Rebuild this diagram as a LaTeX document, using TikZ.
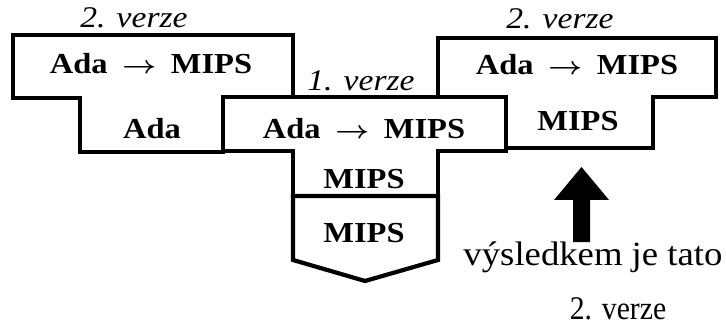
\documentclass[tikz,border=0pt]{standalone}
\usepackage{fontspec}
\setmainfont{Liberation Serif}
\newfontfamily\bxf[FakeStretch=1.12]{Liberation Serif Bold}
\newfontfamily\itf[FakeStretch=1.12]{Liberation Serif Italic}
\newfontfamily\rmf[FakeStretch=0.9]{Liberation Serif}
\newfontfamily\rmw[FakeStretch=1.08]{Liberation Serif}
\newcommand\tarrow{\hspace{0.5em}\scalebox{1.2}[1]{\boldmath$\rightarrow$}\hspace{0.5em}}
\tikzset{
  tbox/.style={draw=black, line width=4.2pt, line join=miter, fill=white},
  lbl/.style={font=\bxf\fontsize{29}{29}\selectfont, anchor=base, inner sep=0pt},
  ver/.style={font=\itf\fontsize{30}{30}\selectfont, anchor=base, inner sep=0pt},
  note/.style={font=\rmf\fontsize{33}{33}\selectfont, anchor=base, inner sep=0pt},
  wnote/.style={font=\rmw\fontsize{34}{34}\selectfont, anchor=base, inner sep=0pt},
}
\begin{document}
\begin{tikzpicture}[x=1pt,y=-1pt]
\useasboundingbox (0,0) rectangle (726,326);
% left T (2. verze)
\draw[tbox] (13,35) -- (293,35) -- (293,98) -- (223,98) -- (223,152) -- (80,152) -- (80,98) -- (13,98) -- cycle;
% right T (2. verze)
\draw[tbox] (438,38) -- (716,38) -- (716,97) -- (653,97) -- (653,148) -- (506,148) -- (506,97) -- (438,97) -- cycle;
% middle T (1. verze)
\draw[tbox] (223,97) -- (506,97) -- (506,151) -- (438,151) -- (438,196) -- (293,196) -- (293,151) -- (223,151) -- cycle;
% machine
\draw[tbox] (293,196) -- (438,196) -- (438,260) -- (365,281) -- (293,260) -- cycle;
% arrow
\fill[black] (573,242) -- (573,200) -- (554,200) -- (581.5,167) -- (609,200) -- (590,200) -- (590,242) -- cycle;
% labels
\node[ver] (v2l) at (134,28) {2. verze};
\node[ver] (v1) at (361,91) {1. verze};
\node[ver] (v2r) at (560,29) {2. verze};
\node[lbl] (tl) at (151,74) {Ada\tarrow MIPS};
\node[lbl] (bl) at (152,139) {Ada};
\node[lbl] (tm) at (364,139) {Ada\tarrow MIPS};
\node[lbl] (bm) at (364,189) {MIPS};
\node[lbl] (mach) at (364,242) {MIPS};
\node[lbl] (tr) at (577,75) {Ada\tarrow MIPS};
\node[lbl] (br) at (578,131) {MIPS};
\node[wnote] (n1) at (593,265) {výsledkem je tato};
\node[note] (n2) at (618,319) {2. verze};
\end{tikzpicture}
\end{document}
